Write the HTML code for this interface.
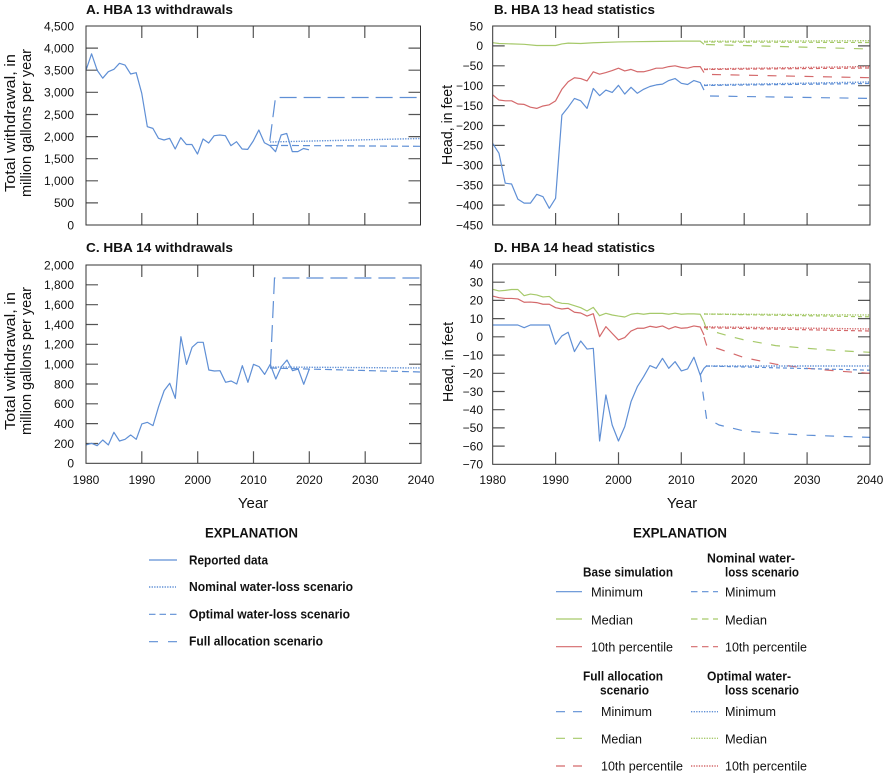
<!DOCTYPE html>
<html><head><meta charset="utf-8"><style>
html,body{margin:0;padding:0;background:#fff;}
svg{display:block;}
text{font-family:"Liberation Sans",Arial,sans-serif;fill:#111;}
.t{font-size:12px;}
.b{font-weight:bold;}
.ln{fill:none;stroke-width:1.2;vector-effect:non-scaling-stroke;stroke-linejoin:round;}
.bl{stroke:#5f8fd5;} .gr{stroke:#a6c96a;} .rd{stroke:#d4696b;}
.fr{fill:none;stroke:#333;stroke-width:1;}
.tk{fill:none;stroke:#555;stroke-width:1.2;}
.d{fill:none;stroke-width:1.2;}
.dt{stroke-width:1.4;}
</style></head><body>
<svg width="883" height="775" viewBox="0 0 883 775" xmlns="http://www.w3.org/2000/svg">
<rect width="883" height="775" fill="#fff"/>

<!-- Titles -->
<text class="b" x="86" y="14" font-size="13" textLength="147" lengthAdjust="spacingAndGlyphs">A. HBA 13 withdrawals</text>
<text class="b" x="494" y="14" font-size="13" textLength="161" lengthAdjust="spacingAndGlyphs">B. HBA 13 head statistics</text>
<text class="b" x="86" y="252" font-size="13" textLength="147" lengthAdjust="spacingAndGlyphs">C. HBA 14 withdrawals</text>
<text class="b" x="494" y="252" font-size="13" textLength="161" lengthAdjust="spacingAndGlyphs">D. HBA 14 head statistics</text>

<!-- Y axis labels -->
<text font-size="15" transform="translate(15,123) rotate(-90)" text-anchor="middle" textLength="138" lengthAdjust="spacingAndGlyphs">Total withdrawal, in</text>
<text font-size="15" transform="translate(31,123) rotate(-90)" text-anchor="middle" textLength="148" lengthAdjust="spacingAndGlyphs">million gallons per year</text>
<text font-size="15" transform="translate(15,361) rotate(-90)" text-anchor="middle" textLength="138" lengthAdjust="spacingAndGlyphs">Total withdrawal, in</text>
<text font-size="15" transform="translate(31,361) rotate(-90)" text-anchor="middle" textLength="148" lengthAdjust="spacingAndGlyphs">million gallons per year</text>
<text font-size="15" transform="translate(452,125) rotate(-90)" text-anchor="middle" textLength="80" lengthAdjust="spacingAndGlyphs">Head, in feet</text>
<text font-size="15" transform="translate(453,362) rotate(-90)" text-anchor="middle" textLength="80" lengthAdjust="spacingAndGlyphs">Head, in feet</text>

<!-- Year labels -->
<text font-size="15" x="253" y="508" text-anchor="middle">Year</text>
<text font-size="15" x="682" y="508" text-anchor="middle">Year</text>

<!-- ============ Panel A ============ -->
<g class="t" text-anchor="end">
<text x="74" y="229.3">0</text><text x="74" y="207.2">500</text><text x="74" y="185.1">1,000</text><text x="74" y="163">1,500</text><text x="74" y="140.9">2,000</text><text x="74" y="118.8">2,500</text><text x="74" y="96.6">3,000</text><text x="74" y="74.5">3,500</text><text x="74" y="52.4">4,000</text><text x="74" y="30.3">4,500</text>
</g>
<path class="tk" d="M86 202.9h12M86 180.8h12M86 158.7h12M86 136.6h12M86 114.5h12M86 92.3h12M86 70.2h12M86 48.1h12M420.5 202.9h-12M420.5 180.8h-12M420.5 158.7h-12M420.5 136.6h-12M420.5 114.5h-12M420.5 92.3h-12M420.5 70.2h-12M420.5 48.1h-12M141.8 26v12M197.5 26v12M253.3 26v12M309 26v12M364.8 26v12M141.8 225v-12M197.5 225v-12M253.3 225v-12M309 225v-12M364.8 225v-12"/>
<polyline class="ln bl" transform="matrix(5.575 0 0 -0.04422 86 225)" points="0,3500 1,3870 2,3500 3,3320 4,3467 5,3520 6,3656 7,3618 8,3415 9,3445 10,2978 11,2223 12,2185 13,1960 14,1922 15,1960 16,1718 17,1975 18,1820 19,1820 20,1605 21,1945 22,1855 23,2020 24,2035 25,2020 26,1794 27,1884 28,1718 29,1710 30,1900 31,2148 32,1860 33,1794 34,1658 35,2035 36,2070 37,1660 38,1660 39,1730 40,1700"/>
<path class="d bl" stroke-dasharray="17 7" d="M269.8 141L275.5 97.5H420.5"/>
<path class="d bl" stroke-dasharray="7 4" d="M270 145.4L420.5 146.3"/>
<path class="d dt bl" stroke-dasharray="1.3 1.3" d="M270 142L420.5 138.5"/>
<rect class="fr" x="86" y="26" width="334.5" height="199"/>

<!-- ============ Panel C ============ -->
<g class="t" text-anchor="end">
<text x="74" y="467.6">0</text><text x="74" y="447.8">200</text><text x="74" y="427.9">400</text><text x="74" y="408.1">600</text><text x="74" y="388.3">800</text><text x="74" y="368.5">1,000</text><text x="74" y="348.6">1,200</text><text x="74" y="328.8">1,400</text><text x="74" y="309">1,600</text><text x="74" y="289.1">1,800</text><text x="74" y="269.3">2,000</text>
</g>
<g class="t" text-anchor="middle">
<text x="86" y="484">1980</text><text x="141.8" y="484">1990</text><text x="197.7" y="484">2000</text><text x="253.5" y="484">2010</text><text x="309.3" y="484">2020</text><text x="365.2" y="484">2030</text><text x="421" y="484">2040</text>
</g>
<path class="tk" d="M86 443.5h12M86 423.6h12M86 403.8h12M86 384h12M86 364.2h12M86 344.3h12M86 324.5h12M86 304.7h12M86 284.8h12M421 443.5h-12M421 423.6h-12M421 403.8h-12M421 384h-12M421 364.2h-12M421 344.3h-12M421 324.5h-12M421 304.7h-12M421 284.8h-12M141.8 265v12M197.7 265v12M253.5 265v12M309.3 265v12M365.2 265v12M141.8 463.3v-12M197.7 463.3v-12M253.5 463.3v-12M309.3 463.3v-12M365.2 463.3v-12"/>
<polyline class="ln bl" transform="matrix(5.583 0 0 -0.09915 86 463.3)" points="0,185 1,202 2,178 3,235 4,185 5,313 6,225 7,242 8,286 9,242 10,397 11,413 12,380 13,571 14,733 15,807 16,655 17,1277 18,998 19,1170 20,1220 21,1220 22,941 23,931 24,934 25,817 26,830 27,800 28,985 29,817 30,998 31,975 32,897 33,998 34,850 35,975 36,1042 37,934 38,951 39,797 40,951"/>
<path class="d bl" stroke-dasharray="17 7" d="M270.5 366L274.5 278H421"/>
<path class="d dt bl" stroke-dasharray="1.3 1.3" d="M270 367L421 368"/>
<path class="d bl" stroke-dasharray="7 4" d="M270 368L421 372"/>
<rect class="fr" x="86" y="265" width="335" height="198.3"/>

<!-- ============ Panel B ============ -->
<g class="t" text-anchor="end">
<text x="483" y="30.3">50</text><text x="483" y="50.2">0</text><text x="483" y="70.1">−50</text><text x="483" y="90">−100</text><text x="483" y="109.9">−150</text><text x="483" y="129.8">−200</text><text x="483" y="149.7">−250</text><text x="483" y="169.6">−300</text><text x="483" y="189.5">−350</text><text x="483" y="209.4">−400</text><text x="483" y="229.3">−450</text>
</g>
<path class="tk" d="M492.7 45.9h12M492.7 65.8h12M492.7 85.7h12M492.7 105.6h12M492.7 125.5h12M492.7 145.4h12M492.7 165.3h12M492.7 185.2h12M492.7 205.1h12M870 45.9h-12M870 65.8h-12M870 85.7h-12M870 105.6h-12M870 125.5h-12M870 145.4h-12M870 165.3h-12M870 185.2h-12M870 205.1h-12M555.6 26v12M618.5 26v12M681.3 26v12M744.2 26v12M807.1 26v12M555.6 225v-12M618.5 225v-12M681.3 225v-12M744.2 225v-12M807.1 225v-12"/>
<g transform="matrix(6.288 0 0 -0.398 492.7 45.9)">
<polyline class="ln bl" points="0,-245 1,-270 2,-345 3,-347 4,-385 5,-395 6,-395 7,-373 8,-379 9,-408 10,-383 11,-174 12,-154 13,-132 14,-138 15,-157 16,-107 17,-125 18,-111 19,-117 20,-99 21,-121 22,-104 23,-119 24,-109 25,-102 26,-98 27,-96 28,-87 29,-82 30,-94 31,-97 32,-87 33,-92 33.6,-111"/>
<polyline class="ln rd" points="0,-123 1,-136 2,-138 3,-138 4,-146 5,-147 6,-154 7,-157 8,-151 9,-148 10,-138 11,-109 12,-90 13,-80 14,-82 15,-88 16,-65 17,-71 18,-67 19,-62 20,-56 21,-63 22,-59 23,-65 24,-65 25,-61 26,-56 27,-56 28,-52 29,-50 30,-54 31,-56 32,-52 33,-52 33.6,-67"/>
<polyline class="ln gr" points="0,8 1,6 3,5 5,4 7,1 9,1 10,1 11,5 12,7 14,6 16,8 20,10 25,11 30,12 33,12 33.6,4"/>
</g>
<path class="d bl" stroke-dasharray="9 9.5" d="M710 96L870 98.4"/>
<path class="d rd" stroke-dasharray="9 9.5" d="M712 74.5L870 77.7"/>
<path class="d gr" stroke-dasharray="9 9.5" d="M706 44.5L870 49"/>
<path class="d bl" stroke-dasharray="4 3" d="M704 85.5L870 83.5"/>
<path class="d rd" stroke-dasharray="4 3" d="M704 69.5L870 68"/>
<path class="d gr" stroke-dasharray="4 3" d="M704 42L870 42.5"/>
<path class="d dt bl" stroke-dasharray="1.3 1.3" d="M704 85L870 82"/>
<path class="d dt rd" stroke-dasharray="1.3 1.3" d="M704 69L870 66.5"/>
<path class="d dt gr" stroke-dasharray="1.3 1.3" d="M704 41.3L870 40.7"/>
<rect class="fr" x="492.7" y="26" width="377.3" height="199"/>

<!-- ============ Panel D ============ -->
<g class="t" text-anchor="end">
<text x="483" y="268.3">40</text><text x="483" y="286.5">30</text><text x="483" y="304.7">20</text><text x="483" y="322.9">10</text><text x="483" y="341.1">0</text><text x="483" y="359.4">−10</text><text x="483" y="377.6">−20</text><text x="483" y="395.8">−30</text><text x="483" y="414">−40</text><text x="483" y="432.2">−50</text><text x="483" y="450.4">−60</text><text x="483" y="468.6">−70</text>
</g>
<g class="t" text-anchor="middle">
<text x="492.7" y="484">1980</text><text x="555.6" y="484">1990</text><text x="618.5" y="484">2000</text><text x="681.3" y="484">2010</text><text x="744.2" y="484">2020</text><text x="807.1" y="484">2030</text><text x="870" y="484">2040</text>
</g>
<path class="tk" d="M492.7 282.2h12M492.7 300.4h12M492.7 318.6h12M492.7 336.8h12M492.7 355.1h12M492.7 373.3h12M492.7 391.5h12M492.7 409.7h12M492.7 427.9h12M492.7 446.1h12M870 282.2h-12M870 300.4h-12M870 318.6h-12M870 336.8h-12M870 355.1h-12M870 373.3h-12M870 391.5h-12M870 409.7h-12M870 427.9h-12M870 446.1h-12M555.6 264v12M618.5 264v12M681.3 264v12M744.2 264v12M807.1 264v12M555.6 464.3v-12M618.5 464.3v-12M681.3 464.3v-12M744.2 464.3v-12M807.1 464.3v-12"/>
<g transform="matrix(6.288 0 0 -1.821 492.7 336.84)">
<polyline class="ln gr" points="0,26.1 1,25.2 2,25.5 3,26 4,26 5,22.6 6,23.5 7,23 8,21.9 9,22.2 10,19.3 11,18.4 12,18.2 13,17.1 14,16 15,14.2 16,16.2 17,11.6 18,12.9 19,12 20,11.4 21,10.9 22,12.4 23,12.9 24,12.4 25,12.9 26,12.9 27,12.9 28,12.4 29,13 30,12.4 31,12.6 32,12.6 33,12.4 33.6,8.3"/>
<polyline class="ln rd" points="0,22.4 1,21.5 2,21.1 3,21.1 4,20.8 5,19 6,19.1 7,18.8 8,17.9 9,17.9 10,16 11,15.3 12,15.7 13,13.5 14,13.1 15,11.4 16,12.7 17,0.1 18,5.6 19,1.9 20,-1.7 21,-0.4 22,3.2 23,4.7 24,4.7 25,5.8 26,5.2 27,6 28,4.3 29,5.6 30,4.7 31,5 32,6 33,5.4 33.6,1"/>
<polyline class="ln bl" points="0,6.5 4,6.5 5,5 6,6.5 9,6.5 10,-4.1 11,0.5 12,2.5 13,-8.1 14,-2.3 15,-6.7 16,-6.3 17,-57.2 18,-31.9 19,-48.4 20,-57.2 21,-49.3 22,-35.6 23,-27.4 24,-21.9 25,-15.8 26,-17.3 27,-11.8 28,-17.3 29,-13.6 30,-18.7 31,-17.6 32,-11.2 33,-21 33.6,-17.3 34,-16"/>
</g>
<path class="d gr" stroke-dasharray="9 9.5" d="M704 322L706.5 329L719.1 333.2L731.6 336.8L744.2 339.9L775.7 345.6L807.1 348.3L838.5 350.7L870 352.3"/>
<path class="d rd" stroke-dasharray="9 9.5" d="M704 337L706.5 345L719.1 349L744.2 357.6L775.7 364.2L807.1 368.3L838.5 371.1L870 373.3"/>
<path class="d bl" stroke-dasharray="9 9.5" d="M700.2 373.3L706.5 418.2L719.1 425L744.2 431L775.7 433.4L807.1 435.2L870 437.4"/>
<path class="d gr" stroke-dasharray="4 3" d="M704 314L870 316.8"/>
<path class="d rd" stroke-dasharray="4 3" d="M704 327.7L870 331"/>
<path class="d bl" stroke-dasharray="4 3" d="M706 366L870 370.2"/>
<path class="d dt gr" stroke-dasharray="1.3 1.3" d="M704 314L870 315"/>
<path class="d dt rd" stroke-dasharray="1.3 1.3" d="M704 326.8L870 329"/>
<path class="d dt bl" stroke-dasharray="1.3 1.3" d="M706 366L870 366"/>
<rect class="fr" x="492.7" y="264" width="377.3" height="200.3"/>

<!-- ============ Left legend ============ -->
<text class="b" x="205" y="537.5" font-size="14" textLength="93" lengthAdjust="spacingAndGlyphs">EXPLANATION</text>
<path class="d bl" d="M149 560H177"/>
<path class="d dt bl" stroke-dasharray="1.3 1.3" d="M149 587H176"/>
<path class="d bl" stroke-dasharray="6.5 4" d="M149 614.3H177"/>
<path class="d bl" stroke-dasharray="9 10" d="M149 641.7H177"/>
<g class="b" font-size="13">
<text x="189" y="564.3" textLength="79" lengthAdjust="spacingAndGlyphs">Reported data</text>
<text x="189" y="591" textLength="164" lengthAdjust="spacingAndGlyphs">Nominal water-loss scenario</text>
<text x="189" y="618.3" textLength="161" lengthAdjust="spacingAndGlyphs">Optimal water-loss scenario</text>
<text x="189" y="645.7" textLength="134" lengthAdjust="spacingAndGlyphs">Full allocation scenario</text>
</g>

<!-- ============ Right legend ============ -->
<text class="b" x="633" y="537.5" font-size="14" textLength="94" lengthAdjust="spacingAndGlyphs">EXPLANATION</text>
<g class="b" font-size="13">
<text x="707" y="562.3" textLength="88" lengthAdjust="spacingAndGlyphs">Nominal water-</text>
<text x="725" y="576.7" textLength="74" lengthAdjust="spacingAndGlyphs">loss scenario</text>
<text x="583" y="576.7" textLength="90" lengthAdjust="spacingAndGlyphs">Base simulation</text>
<text x="583" y="680.7" textLength="80" lengthAdjust="spacingAndGlyphs">Full allocation</text>
<text x="600" y="694.3" textLength="49" lengthAdjust="spacingAndGlyphs">scenario</text>
<text x="707" y="680.7" textLength="84" lengthAdjust="spacingAndGlyphs">Optimal water-</text>
<text x="725" y="694.3" textLength="74" lengthAdjust="spacingAndGlyphs">loss scenario</text>
</g>
<g font-size="13">
<text x="591" y="596.7" textLength="52" lengthAdjust="spacingAndGlyphs">Minimum</text>
<text x="591" y="624.3" textLength="42" lengthAdjust="spacingAndGlyphs">Median</text>
<text x="591" y="651.7" textLength="82" lengthAdjust="spacingAndGlyphs">10th percentile</text>
<text x="725" y="596.7" textLength="51" lengthAdjust="spacingAndGlyphs">Minimum</text>
<text x="725" y="624.3" textLength="42" lengthAdjust="spacingAndGlyphs">Median</text>
<text x="725" y="651.7" textLength="82" lengthAdjust="spacingAndGlyphs">10th percentile</text>
<text x="601" y="716" textLength="51" lengthAdjust="spacingAndGlyphs">Minimum</text>
<text x="601" y="743.3" textLength="41" lengthAdjust="spacingAndGlyphs">Median</text>
<text x="601" y="770.7" textLength="82" lengthAdjust="spacingAndGlyphs">10th percentile</text>
<text x="725" y="716" textLength="51" lengthAdjust="spacingAndGlyphs">Minimum</text>
<text x="725" y="743.3" textLength="42" lengthAdjust="spacingAndGlyphs">Median</text>
<text x="725" y="770.7" textLength="82" lengthAdjust="spacingAndGlyphs">10th percentile</text>
</g>
<path class="d bl" d="M556 591.7H582"/>
<path class="d gr" d="M556 619H582"/>
<path class="d rd" d="M556 646.7H582"/>
<path class="d bl" stroke-dasharray="6.5 4.5" d="M691 591.7H718"/>
<path class="d gr" stroke-dasharray="6.5 4.5" d="M691 619H718"/>
<path class="d rd" stroke-dasharray="6.5 4.5" d="M691 646.7H718"/>
<path class="d bl" stroke-dasharray="9 8" d="M556 711.7H583"/>
<path class="d gr" stroke-dasharray="9 8" d="M556 738.3H583"/>
<path class="d rd" stroke-dasharray="9 8" d="M556 766H583"/>
<path class="d dt bl" stroke-dasharray="1.3 1.3" d="M691 711.7H718"/>
<path class="d dt gr" stroke-dasharray="1.3 1.3" d="M691 738.3H718"/>
<path class="d dt rd" stroke-dasharray="1.3 1.3" d="M691 766H718"/>
</svg>
</body></html>
